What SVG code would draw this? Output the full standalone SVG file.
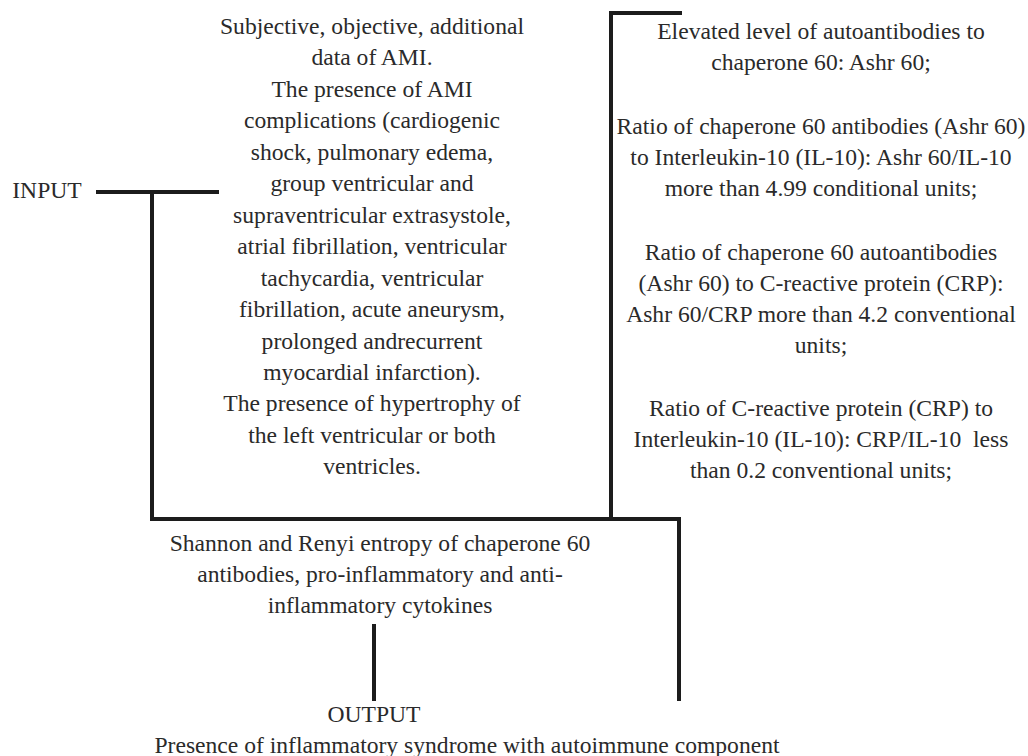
<svg xmlns="http://www.w3.org/2000/svg" width="1028" height="756" viewBox="0 0 1028 756">
<style>
text{font-family:"Liberation Serif","Times New Roman",serif;font-size:23.6px;fill:#2a2a2a;text-anchor:middle}
.ln{fill:none;stroke:#1c1c1c;stroke-width:4;stroke-linecap:square}
</style>
<rect width="1028" height="756" fill="#fff"/>
<g id="connectors">
<path class="ln" d="M98 192H217"/>
<path class="ln" d="M152 192V519H679V699"/>
<path class="ln" d="M680 13H611V519"/>
<path class="ln" d="M374 626V699"/>
</g>
<g id="input">
<text x="47" y="198">INPUT</text>
</g>
<g id="input-data">
<text x="372" y="34">Subjective, objective, additional</text>
<text x="372" y="65">data of AMI.</text>
<text x="372" y="97">The presence of AMI</text>
<text x="372" y="128">complications (cardiogenic</text>
<text x="372" y="160">shock, pulmonary edema,</text>
<text x="372" y="191">group ventricular and</text>
<text x="372" y="223">supraventricular extrasystole,</text>
<text x="372" y="254">atrial fibrillation, ventricular</text>
<text x="372" y="286">tachycardia, ventricular</text>
<text x="372" y="317">fibrillation, acute aneurysm,</text>
<text x="372" y="349">prolonged andrecurrent</text>
<text x="372" y="380">myocardial infarction).</text>
<text x="372" y="411">The presence of hypertrophy of</text>
<text x="372" y="443">the left ventricular or both</text>
<text x="372" y="474">ventricles.</text>
</g>
<g id="criteria">
<text x="821" y="39">Elevated level of autoantibodies to</text>
<text x="821" y="70">chaperone 60: Ashr 60;</text>
<text x="821" y="134">Ratio of chaperone 60 antibodies (Ashr 60)</text>
<text x="821" y="165">to Interleukin-10 (IL-10): Ashr 60/IL-10</text>
<text x="821" y="196">more than 4.99 conditional units;</text>
<text x="821" y="260">Ratio of chaperone 60 autoantibodies</text>
<text x="821" y="291">(Ashr 60) to C-reactive protein (CRP):</text>
<text x="821" y="322">Ashr 60/CRP more than 4.2 conventional</text>
<text x="821" y="353">units;</text>
<text x="821" y="416">Ratio of C-reactive protein (CRP) to</text>
<text x="821" y="447" xml:space="preserve">Interleukin-10 (IL-10): CRP/IL-10  less</text>
<text x="821" y="478">than 0.2 conventional units;</text>
</g>
<g id="entropy">
<text x="380" y="551">Shannon and Renyi entropy of chaperone 60</text>
<text x="380" y="582">antibodies, pro-inflammatory and anti-</text>
<text x="380" y="613">inflammatory cytokines</text>
</g>
<g id="output">
<text x="374" y="722">OUTPUT</text>
<text x="467" y="753">Presence of inflammatory syndrome with autoimmune component</text>
</g>
</svg>
